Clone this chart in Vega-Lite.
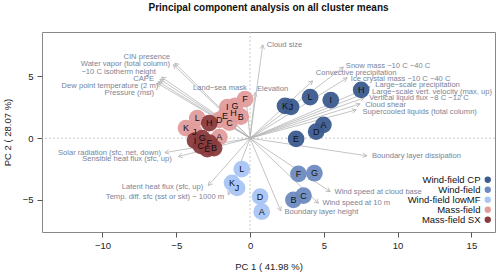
{
  "$schema": "https://vega.github.io/schema/vega-lite/v6.json",
  "autosize": "none",
  "width": 453,
  "height": 200,
  "padding": {"left": 42, "top": 32, "right": 5, "bottom": 44},
  "background": "white",
  "config": {
    "font": "Liberation Sans",
    "view": {"stroke": "#888888", "strokeWidth": 1},
    "axis": {"grid": false, "domain": false, "tickColor": "#555555", "tickSize": 5, "labelColor": "#222222", "labelFontSize": 9.5, "titleFontSize": 9.5, "titleFontWeight": "normal", "titleColor": "#222222", "labelFont": "Liberation Sans", "titleFont": "Liberation Sans"}
  },
  "title": {"text": "Principal component analysis on all cluster means", "anchor": "middle", "fontSize": 10, "fontWeight": "bold", "color": "#111111", "offset": 19, "font": "Liberation Sans"},
  "datasets": {
    "points": [
      {"group": "Wind-field CP", "label": "K", "x": 2.37, "y": 2.62},
      {"group": "Wind-field CP", "label": "J", "x": 2.78, "y": 2.54},
      {"group": "Wind-field CP", "label": "L", "x": 4.07, "y": 3.32},
      {"group": "Wind-field CP", "label": "I", "x": 5.47, "y": 3.08},
      {"group": "Wind-field CP", "label": "H", "x": 7.53, "y": 3.91},
      {"group": "Wind-field CP", "label": "A", "x": 4.97, "y": 1.08},
      {"group": "Wind-field CP", "label": "D", "x": 4.48, "y": 0.53},
      {"group": "Wind-field CP", "label": "E", "x": 3.12, "y": -0.06},
      {"group": "Wind-field", "label": "F", "x": 3.28, "y": -2.89},
      {"group": "Wind-field", "label": "G", "x": 4.36, "y": -2.84},
      {"group": "Wind-field", "label": "B", "x": 2.94, "y": -5.0},
      {"group": "Wind-field", "label": "C", "x": 3.62, "y": -4.65},
      {"group": "Wind-field lowMF", "label": "L", "x": -0.56, "y": -2.51},
      {"group": "Wind-field lowMF", "label": "K", "x": -1.22, "y": -3.62},
      {"group": "Wind-field lowMF", "label": "J", "x": -0.88, "y": -4.03},
      {"group": "Wind-field lowMF", "label": "D", "x": 0.68, "y": -4.73},
      {"group": "Wind-field lowMF", "label": "A", "x": 0.79, "y": -5.95},
      {"group": "Mass-field", "label": "F", "x": -0.34, "y": 3.16},
      {"group": "Mass-field", "label": "G", "x": -1.02, "y": 2.62},
      {"group": "Mass-field", "label": "I", "x": -1.54, "y": 2.51},
      {"group": "Mass-field", "label": "H", "x": -1.13, "y": 2.03},
      {"group": "Mass-field", "label": "B", "x": -0.63, "y": 1.75},
      {"group": "Mass-field", "label": "E", "x": -1.7, "y": 1.81},
      {"group": "Mass-field", "label": "D", "x": -2.08, "y": 1.48},
      {"group": "Mass-field", "label": "C", "x": -1.4, "y": 1.26},
      {"group": "Mass-field", "label": "L", "x": -3.58, "y": 1.62},
      {"group": "Mass-field", "label": "K", "x": -4.34, "y": 0.81},
      {"group": "Mass-field", "label": "J", "x": -3.78, "y": 0.53},
      {"group": "Mass-field", "label": "A", "x": -2.08, "y": 0.08},
      {"group": "Mass-field SX", "label": "H", "x": -2.76, "y": 1.22},
      {"group": "Mass-field SX", "label": "I", "x": -3.73, "y": -0.19},
      {"group": "Mass-field SX", "label": "G", "x": -3.24, "y": 0.0},
      {"group": "Mass-field SX", "label": "F", "x": -2.76, "y": -0.36},
      {"group": "Mass-field SX", "label": "C", "x": -3.34, "y": -0.62},
      {"group": "Mass-field SX", "label": "E", "x": -2.9, "y": -0.89},
      {"group": "Mass-field SX", "label": "B", "x": -2.44, "y": -0.81}
    ],
    "vars": [
      {"name": "CIN presence", "x": -5.09, "y": 6.08, "lx": -5.43, "ly": 6.6, "side": "left"},
      {"name": "Water vapor (total column)", "x": -5.2, "y": 5.95, "lx": -5.43, "ly": 6.0, "side": "left"},
      {"name": "−10 C isotherm height", "x": -5.99, "y": 4.94, "lx": -6.38, "ly": 5.37, "side": "left"},
      {"name": "CAPE", "x": -6.11, "y": 4.78, "lx": -6.51, "ly": 4.8, "side": "left"},
      {"name": "Dew point temperature (2 m)", "x": -6.22, "y": 4.59, "lx": -6.22, "ly": 4.2, "side": "left"},
      {"name": "Pressure (msl)", "x": -6.29, "y": 4.46, "lx": -6.51, "ly": 3.66, "side": "left"},
      {"name": "Land−sea mask", "x": -0.3, "y": 3.6, "lx": -0.22, "ly": 4.1, "side": "left"},
      {"name": "Solar radiation (sfc, net, down)", "x": -5.77, "y": -1.17, "lx": -6.04, "ly": -1.2, "side": "left"},
      {"name": "Sensible heat flux (sfc, up)", "x": -4.86, "y": -1.49, "lx": -5.31, "ly": -1.7, "side": "left"},
      {"name": "Latent heat flux (sfc, up)", "x": -2.83, "y": -3.84, "lx": -3.17, "ly": -3.92, "side": "left"},
      {"name": "Temp. diff. sfc (sst or skt) − 1000 m", "x": -1.47, "y": -4.59, "lx": -1.76, "ly": -4.73, "side": "left"},
      {"name": "Elevation", "x": 0.35, "y": 3.7, "lx": 0.47, "ly": 4.0, "side": "right"},
      {"name": "Cloud size", "x": 0.86, "y": 7.56, "lx": 1.13, "ly": 7.56, "side": "right"},
      {"name": "Snow mass −10 C −40 C", "x": 6.33, "y": 5.75, "lx": 6.49, "ly": 5.85, "side": "right"},
      {"name": "Convective precipitation", "x": 4.24, "y": 4.64, "lx": 4.46, "ly": 5.29, "side": "right"},
      {"name": "Ice crystal mass −10 C −40 C", "x": 6.58, "y": 4.89, "lx": 6.83, "ly": 4.76, "side": "right"},
      {"name": "Large−scale precipitation", "x": 8.14, "y": 4.16, "lx": 8.48, "ly": 4.27, "side": "right"},
      {"name": "Large−scale vert. velocity (max, up)", "x": 7.87, "y": 3.67, "lx": 8.26, "ly": 3.73, "side": "right"},
      {"name": "Vertical liquid flux −8 C −12 C", "x": 7.73, "y": 3.27, "lx": 8.07, "ly": 3.22, "side": "right"},
      {"name": "Cloud shear", "x": 7.46, "y": 2.78, "lx": 7.8, "ly": 2.7, "side": "right"},
      {"name": "Supercooled liquids (total column)", "x": 7.19, "y": 2.29, "lx": 7.62, "ly": 2.15, "side": "right"},
      {"name": "Boundary layer dissipation", "x": 7.92, "y": -1.43, "lx": 8.26, "ly": -1.43, "side": "right"},
      {"name": "Wind speed at cloud base", "x": 5.43, "y": -4.33, "lx": 5.72, "ly": -4.38, "side": "right"},
      {"name": "Wind speed at 10 m", "x": 4.63, "y": -5.27, "lx": 4.91, "ly": -5.27, "side": "right"},
      {"name": "Boundary layer height", "x": 2.08, "y": -5.89, "lx": 2.33, "ly": -6.0, "side": "right"}
    ],
    "zero": [{"v": 0}]
  },
  "layer": [
    {
      "data": {"name": "zero"},
      "mark": {"type": "rule", "color": "#bbbbbb", "strokeDash": [2, 2], "strokeWidth": 0.8},
      "encoding": {"x": {"field": "v", "type": "quantitative", "scale": {"domain": [-14.1, 16.6], "nice": false, "zero": false}, "axis": {"values": [-10, -5, 0, 5, 10, 15], "title": "PC 1 ( 41.98 %)", "labelPadding": 3, "titlePadding": 12}}}
    },
    {
      "data": {"name": "zero"},
      "mark": {"type": "rule", "color": "#bbbbbb", "strokeDash": [2, 2], "strokeWidth": 0.8},
      "encoding": {"y": {"field": "v", "type": "quantitative", "scale": {"domain": [-7.6, 8.6], "nice": false, "zero": false}, "axis": {"values": [-5, 0, 5], "title": "PC 2 ( 28.07 %)", "labelPadding": 4, "titlePadding": 10}}}
    },
    {
      "data": {"name": "vars"},
      "mark": {"type": "rule", "color": "#b5b5b5", "strokeWidth": 0.8},
      "encoding": {
        "x": {"field": "x", "type": "quantitative", "scale": {"domain": [-14.1, 16.6], "nice": false, "zero": false}, "axis": {"values": [-10, -5, 0, 5, 10, 15], "title": "PC 1 ( 41.98 %)", "labelPadding": 3, "titlePadding": 12}},
        "y": {"field": "y", "type": "quantitative", "scale": {"domain": [-7.6, 8.6], "nice": false, "zero": false}, "axis": {"values": [-5, 0, 5], "title": "PC 2 ( 28.07 %)", "labelPadding": 4, "titlePadding": 10}},
        "x2": {"datum": 0},
        "y2": {"datum": 0}
      }
    },
    {
      "data": {"name": "vars"},
      "transform": [{"calculate": "atan2(datum.x * 14.756, datum.y * 12.35) * 180 / PI", "as": "ang"}],
      "mark": {"type": "point", "shape": "M-0.7,1.3L0,0L0.7,1.3", "filled": false, "stroke": "#b5b5b5", "strokeWidth": 0.8, "size": 40, "opacity": 1},
      "encoding": {
        "x": {"field": "x", "type": "quantitative", "scale": {"domain": [-14.1, 16.6], "nice": false, "zero": false}, "axis": {"values": [-10, -5, 0, 5, 10, 15], "title": "PC 1 ( 41.98 %)", "labelPadding": 3, "titlePadding": 12}},
        "y": {"field": "y", "type": "quantitative", "scale": {"domain": [-7.6, 8.6], "nice": false, "zero": false}, "axis": {"values": [-5, 0, 5], "title": "PC 2 ( 28.07 %)", "labelPadding": 4, "titlePadding": 10}},
        "angle": {"field": "ang", "type": "quantitative", "scale": null}
      }
    },
    {
      "data": {"name": "points"},
      "mark": {"type": "circle", "size": 280, "opacity": 0.95},
      "encoding": {
        "x": {"field": "x", "type": "quantitative", "scale": {"domain": [-14.1, 16.6], "nice": false, "zero": false}, "axis": {"values": [-10, -5, 0, 5, 10, 15], "title": "PC 1 ( 41.98 %)", "labelPadding": 3, "titlePadding": 12}},
        "y": {"field": "y", "type": "quantitative", "scale": {"domain": [-7.6, 8.6], "nice": false, "zero": false}, "axis": {"values": [-5, 0, 5], "title": "PC 2 ( 28.07 %)", "labelPadding": 4, "titlePadding": 10}},
        "color": {
          "field": "group", "type": "nominal",
          "scale": {"domain": ["Wind-field CP", "Wind-field", "Wind-field lowMF", "Mass-field", "Mass-field SX"], "range": ["#3c5b8f", "#6e8bc0", "#a9c5f4", "#e19c9c", "#8a3b3e"]},
          "legend": {"orient": "none", "legendX": 441, "legendY": 143, "title": null, "labelAlign": "right", "labelOffset": -12, "symbolSize": 40, "symbolType": "circle", "symbolOpacity": 1, "symbolStrokeWidth": 0, "labelFontSize": 9.5, "labelColor": "#111111", "rowPadding": -1.5, "labelFont": "Liberation Sans"}
        }
      }
    },
    {
      "data": {"name": "points"},
      "mark": {"type": "text", "fontSize": 9, "color": "#111111", "baseline": "middle", "align": "center"},
      "encoding": {
        "x": {"field": "x", "type": "quantitative", "scale": {"domain": [-14.1, 16.6], "nice": false, "zero": false}, "axis": {"values": [-10, -5, 0, 5, 10, 15], "title": "PC 1 ( 41.98 %)", "labelPadding": 3, "titlePadding": 12}},
        "y": {"field": "y", "type": "quantitative", "scale": {"domain": [-7.6, 8.6], "nice": false, "zero": false}, "axis": {"values": [-5, 0, 5], "title": "PC 2 ( 28.07 %)", "labelPadding": 4, "titlePadding": 10}},
        "text": {"field": "label"}
      }
    },
    {
      "data": {"name": "vars"},
      "transform": [{"filter": "datum.side === 'left'"}],
      "mark": {"type": "text", "fontSize": 7.6, "color": "#7a8397", "baseline": "middle", "align": "right"},
      "encoding": {
        "x": {"field": "lx", "type": "quantitative", "scale": {"domain": [-14.1, 16.6], "nice": false, "zero": false}, "axis": {"values": [-10, -5, 0, 5, 10, 15], "title": "PC 1 ( 41.98 %)", "labelPadding": 3, "titlePadding": 12}},
        "y": {"field": "ly", "type": "quantitative", "scale": {"domain": [-7.6, 8.6], "nice": false, "zero": false}, "axis": {"values": [-5, 0, 5], "title": "PC 2 ( 28.07 %)", "labelPadding": 4, "titlePadding": 10}},
        "text": {"field": "name"}
      }
    },
    {
      "data": {"name": "vars"},
      "transform": [{"filter": "datum.side === 'right'"}],
      "mark": {"type": "text", "fontSize": 7.6, "color": "#7a8397", "baseline": "middle", "align": "left"},
      "encoding": {
        "x": {"field": "lx", "type": "quantitative", "scale": {"domain": [-14.1, 16.6], "nice": false, "zero": false}, "axis": {"values": [-10, -5, 0, 5, 10, 15], "title": "PC 1 ( 41.98 %)", "labelPadding": 3, "titlePadding": 12}},
        "y": {"field": "ly", "type": "quantitative", "scale": {"domain": [-7.6, 8.6], "nice": false, "zero": false}, "axis": {"values": [-5, 0, 5], "title": "PC 2 ( 28.07 %)", "labelPadding": 4, "titlePadding": 10}},
        "text": {"field": "name"}
      }
    }
  ]
}
